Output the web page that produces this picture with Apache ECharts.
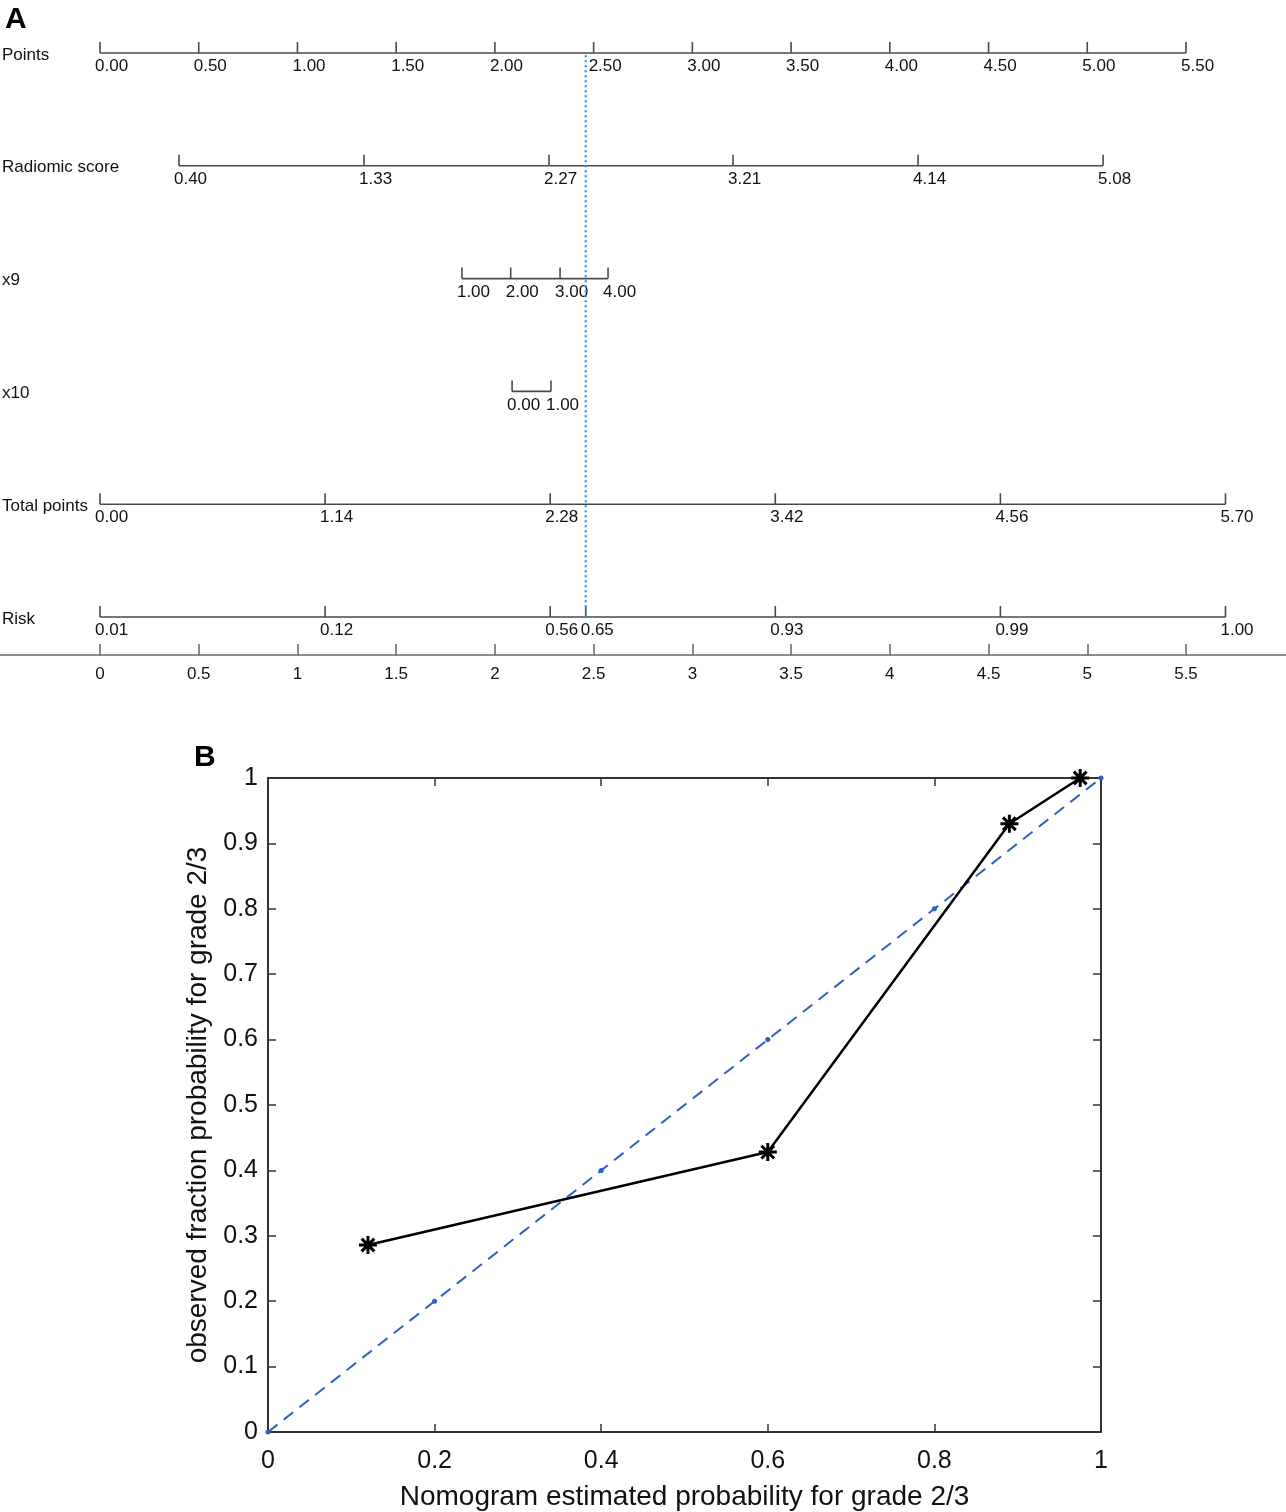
<!DOCTYPE html>
<html>
<head>
<meta charset="utf-8">
<script src="https://cdn.jsdelivr.net/npm/echarts@6/dist/echarts.min.js"></script>
<style>
html,body{margin:0;padding:0;background:#fff;}
#chart{width:1286px;height:1512px;}
</style>
</head>
<body>
<div id="chart"></div>
<script>
// ---------- Panel A: nomogram data ----------
const rowNames = ['Points', 'Radiomic score', 'x9', 'x10', 'Total points', 'Risk'];
const pointsPos = [0, 0.5, 1, 1.5, 2, 2.5, 3, 3.5, 4, 4.5, 5, 5.5];
const pointsLabels = ['0.00', '0.50', '1.00', '1.50', '2.00', '2.50', '3.00', '3.50', '4.00', '4.50', '5.00', '5.50'];
const radiomicPos = [0.40, 1.337, 2.274, 3.206, 4.143, 5.08];
const radiomicLabels = ['0.40', '1.33', '2.27', '3.21', '4.14', '5.08'];
const x9Pos = [1.833, 2.08, 2.33, 2.573];
const x9Labels = ['1.00', '2.00', '3.00', '4.00'];
const x10Pos = [2.087, 2.284];
const x10Labels = ['0.00', '1.00'];
const totalPos = [0, 1.14, 2.28, 3.42, 4.56, 5.70];
const totalLabels = ['0.00', '1.14', '2.28', '3.42', '4.56', '5.70'];
const riskPos = [0, 1.14, 2.28, 2.46, 3.42, 4.56, 5.70];
const riskLabels = ['0.01', '0.12', '0.56', '0.65', '0.93', '0.99', '1.00'];
const patientPoints = 2.46;
const scaleTicks = [0, 0.5, 1, 1.5, 2, 2.5, 3, 3.5, 4, 4.5, 5, 5.5];

// ---------- Panel B: calibration data ----------
const predicted = [0.12, 0.6, 0.89, 0.975];
const observed = [0.286, 0.428, 0.93, 1.0];
const idealX = [0, 0.2, 0.4, 0.6, 0.8, 1];
const idealY = [0, 0.2, 0.4, 0.6, 0.8, 1];

const rowsPos = [pointsPos, radiomicPos, x9Pos, x10Pos, totalPos, riskPos];
const rowsLabels = [pointsLabels, radiomicLabels, x9Labels, x10Labels, totalLabels, riskLabels];

const FONT_A = 'Liberation Sans, Arial, sans-serif';
const FONT_B = 'Liberation Sans, Arial, sans-serif';
const LINE_A = '#4a4a4a';
const TXT = '#111';

const chart = echarts.init(document.getElementById('chart'), null, {renderer: 'canvas'});

function renderRow(params, api) {
  const r = api.value(0);
  const pos = rowsPos[r];
  const labels = rowsLabels[r];
  const children = [];
  const a = api.coord([pos[0], r]);
  const b = api.coord([pos[pos.length - 1], r]);
  children.push({type: 'line', shape: {x1: a[0], y1: a[1], x2: b[0], y2: b[1]},
    style: {stroke: LINE_A, lineWidth: 1.6}});
  for (let i = 0; i < pos.length; i++) {
    const p = api.coord([pos[i], r]);
    children.push({type: 'line', shape: {x1: p[0], y1: p[1] - 11, x2: p[0], y2: p[1]},
      style: {stroke: LINE_A, lineWidth: 1.6}});
    children.push({type: 'text', x: p[0] - 5, y: p[1] + 13.5,
      style: {text: labels[i], fill: TXT, font: '17px ' + FONT_A, textAlign: 'left', textVerticalAlign: 'middle'}});
  }
  children.push({type: 'text', x: params.coordSys.x + 2, y: a[1] + 2,
    style: {text: rowNames[r], fill: TXT, font: '17px ' + FONT_A, textAlign: 'left', textVerticalAlign: 'middle'}});
  return {type: 'group', children: children};
}

const pxPerUnit = (1186 - 100) / 5.5;
const xMinA = -100 / pxPerUnit;
const xMaxA = (1286 - 100) / pxPerUnit;
const rowPx = (617 - 53) / 5;
const yMinA = -53 / rowPx;
const yMaxA = yMinA + 655 / rowPx;

const asterisk = 'path://M0,-10L0,10M-10,0L10,0M-7.07,-7.07L7.07,7.07M-7.07,7.07L7.07,-7.07';

const boxLine = {show: true, onZero: false, lineStyle: {color: '#333', width: 2}};
const boxTick = {show: true, inside: true, length: 8, lineStyle: {color: '#333', width: 1.5}};

const option = {
  backgroundColor: '#fff',
  animation: false,
  title: [
    {text: 'A', left: 0, top: 0, textStyle: {fontFamily: FONT_A, fontWeight: 'bold', fontSize: 30, color: '#000'}},
    {text: 'B', left: 189, top: 738, textStyle: {fontFamily: FONT_A, fontWeight: 'bold', fontSize: 30, color: '#000'}}
  ],
  grid: [
    {left: 0, right: 0, top: 0, height: 655},
    {left: 268, width: 833, top: 778, height: 656}
  ],
  xAxis: [
    {gridIndex: 0, type: 'value', min: xMinA, max: xMaxA, position: 'bottom',
      axisLine: {show: true, onZero: false, lineStyle: {color: '#666', width: 1.5}},
      axisTick: {show: true, inside: true, length: 11, customValues: scaleTicks, lineStyle: {color: '#666', width: 1.5}},
      axisLabel: {show: true, customValues: scaleTicks, formatter: v => String(v), margin: 11,
        fontSize: 17, fontFamily: FONT_A, color: TXT},
      splitLine: {show: false}},
    {gridIndex: 1, type: 'value', min: 0, max: 1, interval: 0.2, position: 'bottom',
      name: 'Nomogram estimated probability for grade 2/3', nameLocation: 'middle', nameGap: 51,
      nameTextStyle: {fontSize: 28, fontFamily: FONT_B, color: TXT},
      axisLine: boxLine, axisTick: boxTick,
      axisLabel: {margin: 17, fontSize: 25, fontFamily: FONT_B, color: TXT},
      splitLine: {show: false}},
    {gridIndex: 1, type: 'value', min: 0, max: 1, interval: 0.2, position: 'top',
      axisLine: boxLine, axisTick: boxTick,
      axisLabel: {show: false}, splitLine: {show: false}}
  ],
  yAxis: [
    {gridIndex: 0, type: 'value', inverse: true, min: yMinA, max: yMaxA, show: false},
    {gridIndex: 1, type: 'value', min: 0, max: 1, interval: 0.1, position: 'left',
      name: 'observed fraction probability for grade 2/3', nameLocation: 'middle', nameGap: 54,
      nameTextStyle: {fontSize: 28, fontFamily: FONT_B, color: TXT},
      axisLine: boxLine, axisTick: boxTick,
      axisLabel: {margin: 10, fontSize: 25, fontFamily: FONT_B, color: TXT},
      splitLine: {show: false}},
    {gridIndex: 1, type: 'value', min: 0, max: 1, interval: 0.1, position: 'right',
      axisLine: boxLine, axisTick: boxTick,
      axisLabel: {show: false}, splitLine: {show: false}}
  ],
  series: [
    {type: 'custom', xAxisIndex: 0, yAxisIndex: 0, clip: false,
      data: rowNames.map((n, i) => [i]), encode: {x: -1, y: 0},
      renderItem: renderRow, silent: true, z: 2},
    {type: 'line', xAxisIndex: 0, yAxisIndex: 0, symbol: 'none', silent: true, z: 3,
      data: [[patientPoints, 0.02], [patientPoints, 5]],
      lineStyle: {color: '#2f95e0', width: 2.2, type: [2, 3]}},
    {type: 'line', xAxisIndex: 1, yAxisIndex: 1, z: 3, silent: true,
      data: idealX.map((x, i) => [x, idealY[i]]),
      symbol: 'circle', symbolSize: 5, itemStyle: {color: '#2f5fbf'},
      lineStyle: {color: '#2f5fbf', width: 2, type: [12, 8]}},
    {type: 'line', xAxisIndex: 1, yAxisIndex: 1, z: 4, silent: true,
      data: predicted.map((x, i) => [x, observed[i]]),
      symbol: asterisk, symbolSize: 18,
      itemStyle: {color: '#000', borderColor: '#000', borderWidth: 3},
      lineStyle: {color: '#000', width: 2.5}}
  ]
};
chart.setOption(option);
</script>
</body>
</html>
